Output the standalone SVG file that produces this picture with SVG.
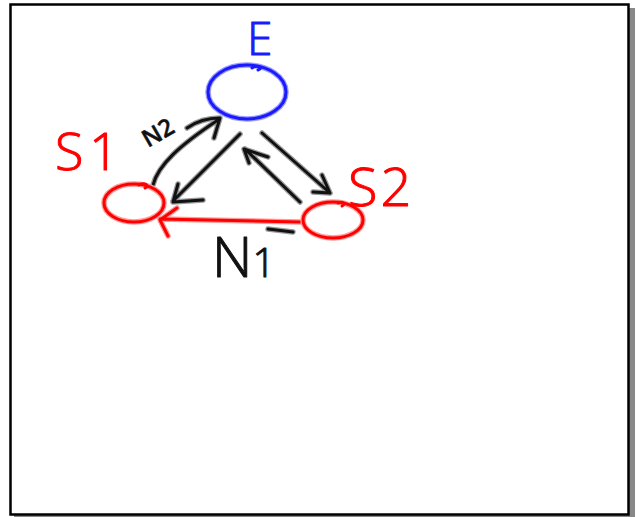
<svg xmlns="http://www.w3.org/2000/svg" width="638" height="517" viewBox="0 0 638 517">
<style>
.frame{fill:#fff;stroke:#000;stroke-width:2.5}
.shadow{fill:#888}
.halo{fill:none;stroke-linecap:round;stroke-linejoin:round;stroke-width:5.5}
.ink{fill:none;stroke-linecap:round;stroke-linejoin:round;stroke-width:3}
.k.halo{stroke:#9a9a9a}.k.ink{stroke:#111}
.r.halo{stroke:#ff9a9a}.r.ink{stroke:#f00}
.b.halo{stroke:#9a9aff}.b.ink{stroke:#1a1aff}
.t{font-family:"Open Sans","Liberation Sans",Arial,sans-serif;font-weight:300;stroke-width:1;stroke-linejoin:round}
.small{font-weight:600;stroke-width:0.5}
</style>
<rect class="shadow" x="14" y="8" width="621" height="509"/>
<rect class="frame" x="10.5" y="4.5" width="618" height="510"/>

<g id="connectors">
  <!-- S1 -> E curved -->
  <g>
    <path class="k halo" d="M153,185 C158,165 180,145 218,120 M187,128 C197,121 208,118 220,118 L214,138"/>
    <path class="k ink" d="M153,185 C158,165 180,145 218,120 M187,128 C197,121 208,118 220,118 L214,138"/>
  </g>
  <!-- E -> S1 -->
  <g>
    <path class="k halo" d="M240,134 L173,201 M178,184 L173,202 L203,200"/>
    <path class="k ink" d="M240,134 L173,201 M178,184 L173,202 L203,200"/>
  </g>
  <!-- S2 -> E -->
  <g>
    <path class="k halo" d="M300,202 L245,149 M249,163 L244,149 L268,157"/>
    <path class="k ink" d="M300,202 L245,149 M249,163 L244,149 L268,157"/>
  </g>
  <!-- E -> S2 -->
  <g>
    <path class="k halo" d="M262,133 L330,193 M322,175 L330,193 L313,192"/>
    <path class="k ink" d="M262,133 L330,193 M322,175 L330,193 L313,192"/>
  </g>
  <!-- S2 -> S1 red -->
  <g>
    <path class="r halo" d="M300,222 L160,219 M177,208 L160,220 L168,236"/>
    <path class="r ink" d="M300,222 L160,219 M177,208 L160,220 L168,236"/>
  </g>
  <!-- stray mark -->
  <g>
    <path class="k halo" d="M268,229 L293,232"/>
    <path class="k ink" d="M268,229 L293,232"/>
  </g>
</g>

<g id="node-E">
  <ellipse class="b halo" cx="247" cy="92" rx="39" ry="27"/>
  <ellipse class="b ink" cx="247" cy="92" rx="39" ry="27"/>
  <path class="b ink" d="M252,68 C258,64 264,68 258,70"/>
  <text class="t" x="247" y="55" font-size="46" fill="#1a1aff" stroke="#1a1aff">E</text>
</g>

<g id="node-S1">
  <ellipse class="r halo" cx="134" cy="203" rx="30" ry="19"/>
  <ellipse class="r ink" cx="134" cy="203" rx="30" ry="19"/>
  <path class="r ink" d="M139,185 C145,182 150,186 145,188"/>
  <text class="t" x="55" y="170" font-size="52" fill="#f00" stroke="#f00" letter-spacing="6">S1</text>
</g>

<g id="node-S2">
  <ellipse class="r halo" cx="333" cy="220" rx="30" ry="18"/>
  <ellipse class="r ink" cx="333" cy="220" rx="30" ry="18"/>
  <path class="r ink" d="M338,203 C343,201 346,204 342,206"/>
  <text class="t" x="348" y="206" font-size="54" fill="#f00" stroke="#f00" letter-spacing="3">S2</text>
</g>

<g id="labels">
  <text class="t" x="212" y="277" font-size="56" fill="#111" stroke="#111">N<tspan font-size="40">1</tspan></text>
  <text class="t small" x="0" y="0" font-size="24" fill="#111" stroke="#111" transform="translate(148,148) rotate(-30)">N2</text>
</g>
</svg>
